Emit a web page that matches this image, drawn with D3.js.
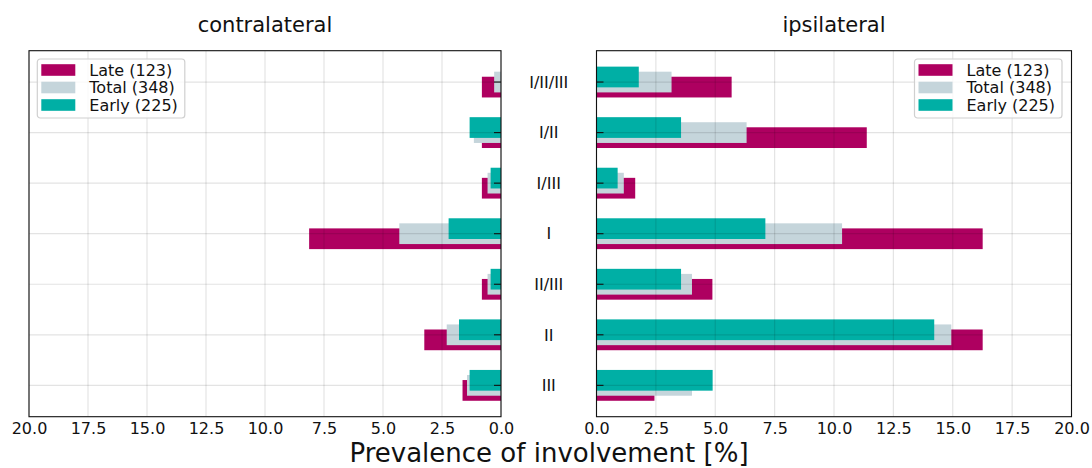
<!DOCTYPE html>
<html>
<head>
<meta charset="utf-8">
<script src="https://cdn.jsdelivr.net/npm/d3@7"></script>
<style>
  html, body { margin: 0; padding: 0; background: #fff; }
  svg { display: block; font-family: "DejaVu Sans", sans-serif; }
</style>
</head>
<body>
<svg id="chart" width="1092" height="468"></svg>
<script>
// Lymph node level combinations, top to bottom
const levels = ["I/II/III", "I/II", "I/III", "I", "II/III", "II", "III"];

// Prevalence of involvement [%], contralateral side
const contraLate  = [0.81, 0.81, 0.81, 8.13, 0.81, 3.25, 1.63];
const contraTotal = [0.29, 1.15, 0.57, 4.31, 0.57, 2.30, 1.44];
const contraEarly = [0.00, 1.33, 0.44, 2.22, 0.44, 1.78, 1.33];

// Prevalence of involvement [%], ipsilateral side
const ipsiLate  = [5.69, 11.38, 1.63, 16.26, 4.88, 16.26, 2.44];
const ipsiTotal = [3.16, 6.32, 1.15, 10.34, 4.02, 14.94, 4.02];
const ipsiEarly = [1.78, 3.56, 0.89, 7.11, 3.56, 14.22, 4.89];

const seriesNames = ["Late (123)", "Total (348)", "Early (225)"];
const seriesColors = ["#ae0060", "#c5d5db", "#00afa5"];
const seriesOffsets = [0.1, 0, -0.1];

const xTicks = [0, 2.5, 5, 7.5, 10, 12.5, 15, 17.5, 20];

const svg = d3.select("#chart");
const plotTop = 50.7, plotBottom = 416.7;
const barH = 0.41;

const y = d3.scaleLinear().domain([-0.62, levels.length - 1 + 0.62]).range([plotTop, plotBottom]);
const xL = d3.scaleLinear().domain([20, 0]).range([29, 501]);
const xR = d3.scaleLinear().domain([0, 20]).range([596.5, 1071.5]);

function panel(x, series, title, tickSide, legendX) {
  const g = svg.append("g");
  const [x0, x1] = x.range();
  const left = Math.min(x0, x1), right = Math.max(x0, x1);

  // bars: late, total, early drawn in that order
  series.forEach((vals, s) => {
    g.append("g").selectAll("rect").data(vals).join("rect")
      .attr("x", d => Math.min(x(0), x(d)))
      .attr("width", d => Math.abs(x(d) - x(0)))
      .attr("y", (d, i) => y(i + seriesOffsets[s] - barH / 2))
      .attr("height", y(barH) - y(0))
      .attr("fill", seriesColors[s]);
  });

  // grid over the bars
  const grid = g.append("g").attr("stroke", "#000").attr("stroke-opacity", 0.11).attr("stroke-width", 1.2);
  grid.selectAll(".gx").data(xTicks).join("line")
    .attr("x1", d => x(d)).attr("x2", d => x(d))
    .attr("y1", plotTop).attr("y2", plotBottom);
  grid.selectAll(".gy").data(levels).join("line")
    .attr("x1", left).attr("x2", right)
    .attr("y1", (d, i) => y(i)).attr("y2", (d, i) => y(i));

  // inward y tick marks on the inner spine
  const tx = tickSide === "right" ? right : left;
  const dir = tickSide === "right" ? -1 : 1;
  g.append("g").selectAll("line").data(levels).join("line")
    .attr("x1", tx).attr("x2", tx + dir * 7)
    .attr("y1", (d, i) => y(i)).attr("y2", (d, i) => y(i))
    .attr("stroke", "#111").attr("stroke-width", 1.1);

  // x axis labels
  const ax = g.append("g").attr("transform", `translate(0,${plotBottom})`)
    .call(d3.axisBottom(x).tickValues(xTicks).tickFormat(d3.format(".1f")).tickSize(0).tickPadding(6));
  ax.select(".domain").remove();
  ax.selectAll("text").attr("font-size", 16).attr("fill", "#111")
    .attr("font-family", "DejaVu Sans, sans-serif");

  // frame
  g.append("rect").attr("x", left).attr("y", plotTop)
    .attr("width", right - left).attr("height", plotBottom - plotTop)
    .attr("fill", "none").attr("stroke", "#111").attr("stroke-width", 1.1);

  // title
  g.append("text").attr("x", (left + right) / 2).attr("y", 31.5)
    .attr("text-anchor", "middle").attr("font-size", 21).attr("fill", "#111")
    .text(title);

  // legend
  const lg = g.append("g").attr("transform", `translate(${legendX},59)`);
  lg.append("rect").attr("x", 0).attr("y", 0).attr("width", 147.5).attr("height", 59)
    .attr("rx", 3).attr("fill", "#fff").attr("fill-opacity", 0.8)
    .attr("stroke", "#d0d0d0").attr("stroke-width", 1.2);
  seriesNames.forEach((name, s) => {
    const cy = 11 + s * 17.5;
    lg.append("rect").attr("x", 4).attr("y", cy - 5.8).attr("width", 34).attr("height", 11.6)
      .attr("fill", seriesColors[s]);
    lg.append("text").attr("x", 52).attr("y", cy + 5.8).attr("font-size", 16).attr("fill", "#111")
      .text(name);
  });
}

panel(xL, [contraLate, contraTotal, contraEarly], "contralateral", "right", 37.3);
panel(xR, [ipsiLate, ipsiTotal, ipsiEarly], "ipsilateral", "left", 914.5);

// level names between the two panels
svg.append("g").selectAll("text").data(levels).join("text")
  .attr("x", 548.75).attr("y", (d, i) => y(i)).attr("dy", "0.36em")
  .attr("text-anchor", "middle").attr("font-size", 16).attr("fill", "#111")
  .text(d => d);

// shared x label
svg.append("text").attr("x", 549).attr("y", 462)
  .attr("text-anchor", "middle").attr("font-size", 26).attr("fill", "#111")
  .text("Prevalence of involvement [%]");
</script>
</body>
</html>
